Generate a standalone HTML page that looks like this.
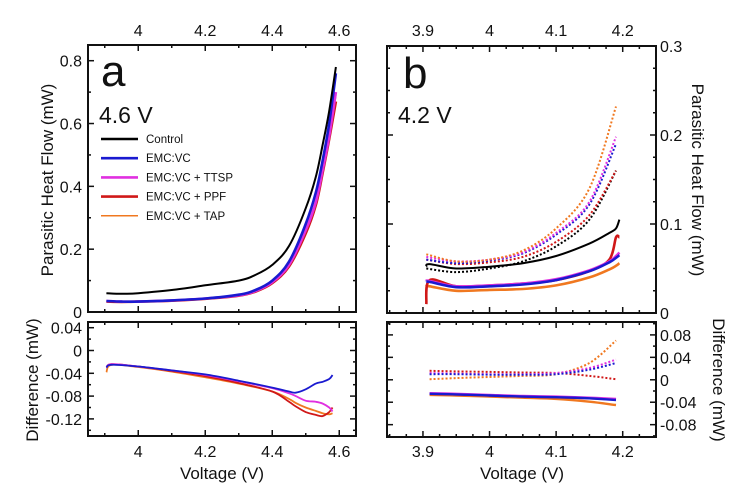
<!DOCTYPE html>
<html><head><meta charset="utf-8"><style>
body{margin:0;background:#fff;}
svg{display:block;font-family:"Liberation Sans",sans-serif;}
</style></head><body>
<svg id="c" width="748" height="493" viewBox="0 0 748 493"></svg>
<script>
// ---- data ----
const seriesNames=["Control","EMC:VC","EMC:VC + TTSP","EMC:VC + PPF","EMC:VC + TAP"];
const seriesColors=["#000000","#1a1ad0","#e030e0","#d01818","#f07820"];
// panel a, heat flow
const aX=[3.905,3.95,4.0,4.1,4.2,4.3,4.35,4.4,4.45,4.5,4.53,4.55,4.57,4.59];
const aCtrl=[0.06,0.058,0.06,0.07,0.085,0.10,0.118,0.15,0.21,0.33,0.43,0.53,0.64,0.78];
const aVC=[0.035,0.033,0.033,0.037,0.043,0.055,0.07,0.10,0.16,0.28,0.38,0.48,0.6,0.76];
const aTTSP=[0.035,0.033,0.033,0.037,0.043,0.053,0.067,0.095,0.15,0.26,0.35,0.45,0.56,0.70];
const aPPF=[0.033,0.032,0.033,0.036,0.042,0.052,0.065,0.092,0.145,0.25,0.34,0.44,0.55,0.67];
const aTAP=[0.034,0.032,0.033,0.036,0.042,0.052,0.065,0.093,0.147,0.255,0.345,0.445,0.56,0.69];
// panel a, difference
const adX=[3.905,3.92,4.0,4.1,4.2,4.3,4.4,4.45,4.47,4.5,4.53,4.55,4.57,4.58];
const adVC=[-0.03,-0.025,-0.028,-0.035,-0.042,-0.053,-0.065,-0.072,-0.074,-0.068,-0.058,-0.055,-0.05,-0.043];
const adTTSP=[-0.03,-0.024,-0.028,-0.035,-0.043,-0.054,-0.066,-0.075,-0.08,-0.088,-0.09,-0.093,-0.1,-0.107];
const adPPF=[-0.03,-0.024,-0.028,-0.036,-0.045,-0.057,-0.072,-0.09,-0.098,-0.108,-0.113,-0.115,-0.108,-0.1];
const adTAP=[-0.038,-0.025,-0.029,-0.037,-0.047,-0.058,-0.072,-0.085,-0.092,-0.1,-0.106,-0.11,-0.112,-0.11];
// panel b, heat flow (solid)
const bX=[3.905,3.91,3.95,4.0,4.05,4.1,4.15,4.18,4.19,4.195];
const bCtrl=[0.052,0.055,0.05,0.052,0.056,0.064,0.078,0.09,0.095,0.105];
const bVC=[0.035,0.035,0.029,0.03,0.032,0.037,0.047,0.057,0.062,0.065];
const bTTSP=[0.036,0.036,0.03,0.031,0.033,0.038,0.048,0.058,0.064,0.068];
const bPPF=[0.01,0.037,0.03,0.031,0.033,0.037,0.047,0.06,0.085,0.085];
const bTAP=[0.03,0.03,0.025,0.026,0.027,0.031,0.04,0.049,0.053,0.056];
// panel b, heat flow (dotted)
const bdX=[3.905,3.95,4.0,4.05,4.1,4.15,4.19];
const bdCtrl=[0.05,0.046,0.05,0.058,0.075,0.105,0.16];
const bdVC=[0.06,0.056,0.059,0.067,0.088,0.122,0.19];
const bdTTSP=[0.063,0.058,0.06,0.068,0.09,0.125,0.198];
const bdPPF=[0.06,0.055,0.057,0.063,0.08,0.11,0.16];
const bdTAP=[0.066,0.058,0.06,0.07,0.095,0.14,0.232];
// panel b, difference
const beX=[3.91,3.95,4.0,4.05,4.1,4.15,4.19];
const beVC=[-0.025,-0.026,-0.028,-0.03,-0.031,-0.033,-0.036];
const beTTSP=[-0.024,-0.025,-0.027,-0.029,-0.03,-0.032,-0.034];
const bePPF=[-0.025,-0.026,-0.028,-0.03,-0.031,-0.033,-0.035];
const beTAP=[-0.027,-0.028,-0.03,-0.032,-0.034,-0.039,-0.045];
const beDVC=[0.01,0.01,0.009,0.009,0.01,0.018,0.03];
const beDTTSP=[0.012,0.011,0.01,0.01,0.012,0.021,0.036];
const beDPPF=[0.016,0.015,0.014,0.013,0.012,0.007,0.001];
const beDTAP=[0.001,0.003,0.005,0.007,0.01,0.03,0.07];
// ticks
const aXTicks=[4,4.2,4.4,4.6], aXLabels=["4","4.2","4.4","4.6"];
const aYTicks=[0,0.2,0.4,0.6,0.8], aYLabels=["0","0.2","0.4","0.6","0.8"];
const adYTicks=[-0.12,-0.08,-0.04,0,0.04], adYLabels=["-0.12","-0.08","-0.04","0","0.04"];
const bXTicks=[3.9,4,4.1,4.2], bXLabels=["3.9","4","4.1","4.2"];
const bYTicks=[0,0.1,0.2,0.3], bYLabels=["0","0.1","0.2","0.3"];
const beYTicks=[-0.08,-0.04,0,0.04,0.08], beYLabels=["-0.08","-0.04","0","0.04","0.08"];

const svg=document.getElementById('c');
const NS="http://www.w3.org/2000/svg";
function el(tag,attrs,parent){const e=document.createElementNS(NS,tag);for(const k in attrs)e.setAttribute(k,attrs[k]);(parent||svg).appendChild(e);return e;}
function txt(x,y,s,size,anchor,name,extra){const t=el('text',Object.assign({x:x,y:y,'font-size':size,'text-anchor':anchor||'middle',fill:'#111'},extra||{}));t.textContent=s;


return t;}
function scale(d0,d1,r0,r1){return v=>r0+(v-d0)/(d1-d0)*(r1-r0);}

function frame(x0,x1,y0,y1,name){const r=el('rect',{x:x0,y:y0,width:x1-x0,height:y1-y0,fill:'none',stroke:'#111','stroke-width':2});

}
function xticks(sx,ticks,y0,y1,minorStep,d0,d1){
 const g=el('g',{stroke:'#111','stroke-width':1.5});
 
 
 for(let v=Math.ceil(d0/minorStep)*minorStep;v<=d1+1e-9;v+=minorStep){const x=sx(v);const major=ticks.some(t=>Math.abs(t-v)<1e-6);const L=major?6:3;
  el('line',{x1:x,x2:x,y1:y0,y2:y0+L},g);el('line',{x1:x,x2:x,y1:y1,y2:y1-L},g);}
}
function yticks(sy,ticks,x0,x1,minorStep,d0,d1){
 const g=el('g',{stroke:'#111','stroke-width':1.5});
 
 
 for(let i=Math.ceil(d0/minorStep-1e-6);i*minorStep<=d1+1e-9;i++){const v=i*minorStep;const y=sy(v);const major=ticks.some(t=>Math.abs(t-v)<1e-6);const L=major?6:3;
  el('line',{x1:x0,x2:x0+L,y1:y,y2:y},g);el('line',{x1:x1,x2:x1-L,y1:y,y2:y},g);}
}
function line(xs,ys,sx,sy,color,w,dash,name){
 const P=xs.map((v,i)=>[sx(v),sy(ys[i])]);
 let d='M'+P[0][0].toFixed(1)+','+P[0][1].toFixed(1);
 for(let i=0;i<P.length-1;i++){
  const p0=P[Math.max(0,i-1)],p1=P[i],p2=P[i+1],p3=P[Math.min(P.length-1,i+2)];
  const c1=[p1[0]+(p2[0]-p0[0])/6,p1[1]+(p2[1]-p0[1])/6];
  const c2=[p2[0]-(p3[0]-p1[0])/6,p2[1]-(p3[1]-p1[1])/6];
  d+='C'+c1[0].toFixed(1)+','+c1[1].toFixed(1)+' '+c2[0].toFixed(1)+','+c2[1].toFixed(1)+' '+p2[0].toFixed(1)+','+p2[1].toFixed(1);
 }
 const p=el('path',{d:d,fill:'none',stroke:color,'stroke-width':w,'stroke-linejoin':'round'});
 if(dash)p.setAttribute('stroke-dasharray',dash);
 
 
}

// ===== Panel a =====
const ax0=88,ax1=356,ay0=45,ay1=312,by0=322,by1=436;
const sxA=scale(3.85,4.65,ax0,ax1);
const syA=scale(0,0.85,ay1,ay0);
const syAd=scale(-0.15,0.05,by1,by0);
xticks(sxA,aXTicks,ay0,ay1,0.1,3.85,4.65);
xticks(sxA,aXTicks,by0,by1,0.1,3.85,4.65);
yticks(syA,aYTicks,ax0,ax1,0.1,0,0.85);
yticks(syAd,adYTicks,ax0,ax1,0.02,-0.15,0.05);
aXTicks.forEach((v,i)=>{txt(sxA(v),36,aXLabels[i],16,'middle','top-x-tick-label-a');txt(sxA(v),457,aXLabels[i],16,'middle','x-tick-label-a');});
aYTicks.forEach((v,i)=>txt(82,syA(v)+6,aYLabels[i],16,'end','y-tick-label-a'));
adYTicks.forEach((v,i)=>txt(82,syAd(v)+6,adYLabels[i],16,'end','diff-y-tick-label-a'));
const aData=[aCtrl,aVC,aTTSP,aPPF,aTAP];
const aW=[2,2.6,2.6,2.6,1.5];
[4,3,2,1,0].forEach(k=>line(aX,aData[k],sxA,syA,seriesColors[k],aW[k],null,'series-a-'+k));
const adData=[null,adVC,adTTSP,adPPF,adTAP];
[4,3,2,1].forEach(k=>line(adX,adData[k],sxA,syAd,seriesColors[k],1.8,null,'diff-a-'+k));
frame(ax0,ax1,ay0,ay1,'plot-frame-a');frame(ax0,ax1,by0,by1,'diff-frame-a');
txt(101,86,'a',44,'start','panel-label-a');
txt(99,123,'4.6 V',23,'start','voltage-label-a');
seriesNames.forEach((n,i)=>{const y=139+i*19.2;
 const l=el('line',{x1:101,x2:138,y1:y,y2:y,stroke:seriesColors[i],'stroke-width':i==4?1.5:2.6});
 
 
 txt(146,y+4,n,11.5,'start','legend-entry');});
txt(0,0,'Parasitic Heat Flow (mW)',17,'middle','y-axis-title-a',{transform:'translate(53,180) rotate(-90)'});
txt(0,0,'Difference (mW)',17,'middle','diff-y-axis-title-a',{transform:'translate(38,380) rotate(-90)'});
txt(222,479,'Voltage (V)',17,'middle','x-axis-title-a');

// ===== Panel b =====
const bx0=387,bx1=656,cy0=46,cy1=313,dy0=322,dy1=437;
const sxB=scale(3.846,4.25,bx0,bx1);
const syB=scale(0,0.3,cy1,cy0);
const syBd=scale(-0.102,0.103,dy1,dy0);
xticks(sxB,bXTicks,cy0,cy1,0.025,3.85,4.25);
xticks(sxB,bXTicks,dy0,dy1,0.025,3.85,4.25);
yticks(syB,bYTicks,bx0,bx1,0.025,0,0.3);
yticks(syBd,beYTicks,bx0,bx1,0.02,-0.1,0.1);
bXTicks.forEach((v,i)=>{txt(sxB(v),36,bXLabels[i],16,'middle','top-x-tick-label-b');txt(sxB(v),457,bXLabels[i],16,'middle','x-tick-label-b');});
bYTicks.forEach((v,i)=>txt(660,syB(v)+6,bYLabels[i],16,'start','y-tick-label-b'));
beYTicks.forEach((v,i)=>txt(660,syBd(v)+6,beYLabels[i],16,'start','diff-y-tick-label-b'));
const bdData=[bdCtrl,bdVC,bdTTSP,bdPPF,bdTAP];
[0,3,1,2,4].forEach(k=>line(bdX,bdData[k],sxB,syB,seriesColors[k],2,'2,2','dotted-series-b-'+k));
const bData=[bCtrl,bVC,bTTSP,bPPF,bTAP];
[4,3,2,1,0].forEach(k=>line(bX,bData[k],sxB,syB,seriesColors[k],k==0?2:2.6,null,'series-b-'+k));
const beD=[null,beDVC,beDTTSP,beDPPF,beDTAP];
[4,3,2,1].forEach(k=>line(beX,beD[k],sxB,syBd,seriesColors[k],2,'2,2','dotted-diff-b-'+k));
const beS=[null,beVC,beTTSP,bePPF,beTAP];
[4,3,2,1].forEach(k=>line(beX,beS[k],sxB,syBd,seriesColors[k],2.4,null,'diff-b-'+k));
frame(bx0,bx1,cy0,cy1,'plot-frame-b');frame(bx0,bx1,dy0,dy1,'diff-frame-b');
txt(403,88,'b',44,'start','panel-label-b');
txt(398,123,'4.2 V',23,'start','voltage-label-b');
txt(0,0,'Parasitic Heat Flow (mW)',17,'middle','y-axis-title-b',{transform:'translate(692,180) rotate(90)'});
txt(0,0,'Difference (mW)',17,'middle','diff-y-axis-title-b',{transform:'translate(713,380) rotate(90)'});
txt(522,479,'Voltage (V)',17,'middle','x-axis-title-b');
</script>
</body></html>
